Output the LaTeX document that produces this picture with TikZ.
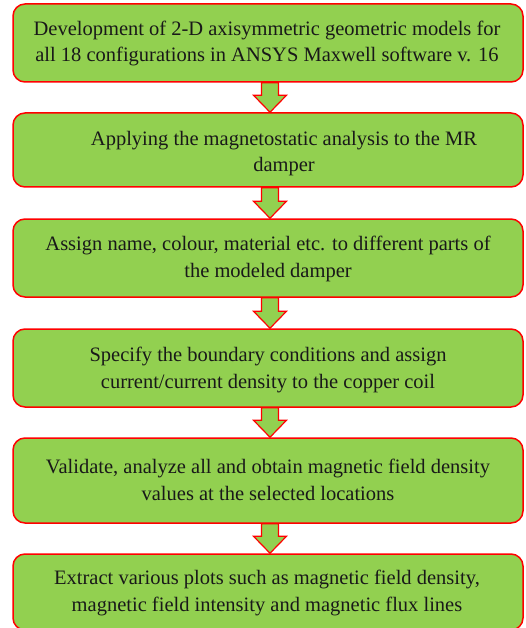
\documentclass[tikz,border=0pt]{standalone}
\usepackage{fontspec}
\setmainfont{Liberation Serif}
\usetikzlibrary{calc}
\definecolor{boxgreen}{HTML}{92D050}
\definecolor{boxred}{HTML}{FF0000}
\tikzset{
  stepbox/.style={draw=boxred, fill=boxgreen, line width=1.5pt, rounded corners=12pt, minimum width=510pt, inner sep=0pt},
  steptext/.style={align=center, anchor=base, inner sep=0pt, font=\fontsize{20.5pt}{26.5pt}\selectfont, text=black!90},
  blockarrow/.style={draw=boxred, fill=boxgreen, line width=1.2pt, line join=miter}
}
\newcommand{\flowarrow}[2]{%
  \path let \p1=(#1.south), \p2=(#2.north) in
    [blockarrow] (270-8.5,\y1) -- (270+8.5,\y1) -- (270+8.5,\y2+17) -- (270+16.5,\y2+17)
    -- (270,\y2) -- (270-16.5,\y2+17) -- (270-8.5,\y2+17) -- cycle;
}
\begin{document}
\begin{tikzpicture}[x=1pt,y=-1pt]
\useasboundingbox (0,0) rectangle (525,628);
\node[stepbox, minimum height=78pt] (b1) at (268,43) {};
\node[stepbox, minimum height=74pt] (b2) at (268,150) {};
\node[stepbox, minimum height=78pt] (b3) at (268,258) {};
\node[stepbox, minimum height=78pt] (b4) at (268,368) {};
\node[stepbox, minimum height=85pt] (b5) at (268,480.5) {};
\node[stepbox, minimum height=76pt] (b6) at (268,592) {};
\node[steptext] (t1) at (267,62) {Development of 2-D axisymmetric geometric models for\\all 18 configurations in ANSYS Maxwell software v. 16};
\node[steptext] (t2) at (284,172) {Applying the magnetostatic analysis to the MR\\damper};
\node[steptext] (t3) at (268,277) {Assign name, colour, material etc. to different parts of\\the modeled damper};
\node[steptext] (t4) at (268,388) {Specify the boundary conditions and assign\\current/current density to the copper coil};
\node[steptext] (t5) at (268,500) {Validate, analyze all and obtain magnetic field density\\values at the selected locations};
\node[steptext] (t6) at (267,611) {Extract various plots such as magnetic field density,\\magnetic field intensity and magnetic flux lines};
\flowarrow{b1}{b2}
\flowarrow{b2}{b3}
\flowarrow{b3}{b4}
\flowarrow{b4}{b5}
\flowarrow{b5}{b6}
\end{tikzpicture}
\end{document}
